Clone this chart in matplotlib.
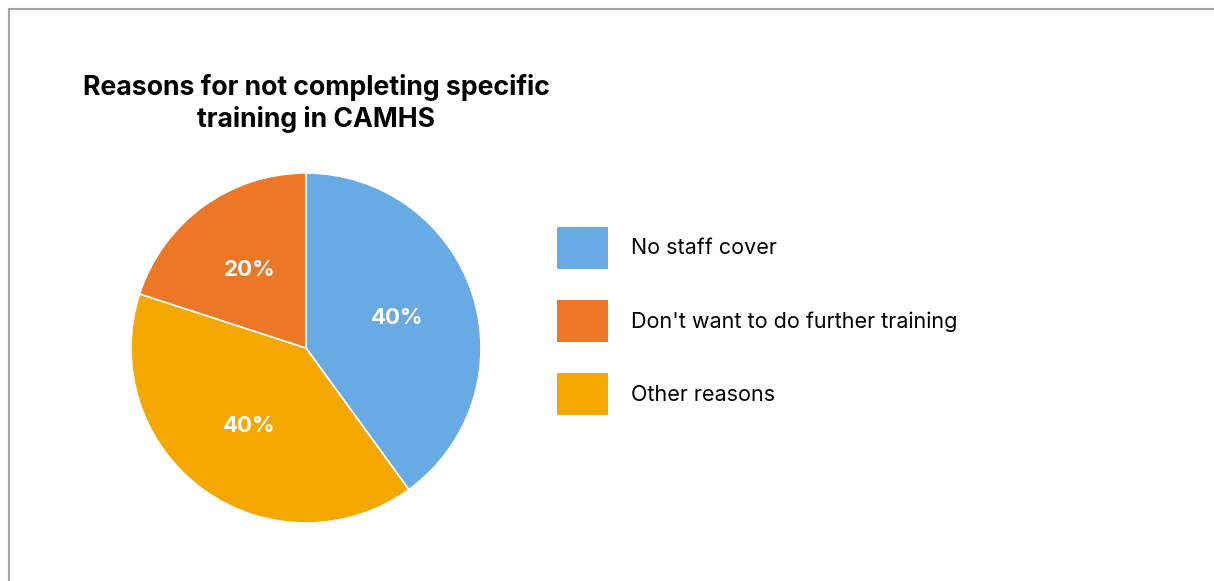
import matplotlib
matplotlib.use("Agg")
import matplotlib.pyplot as plt
import matplotlib.patches as patches

plt.rcParams['font.family'] = ['Inter', 'DejaVu Sans']

title = "Reasons for not completing specific\ntraining in CAMHS"
labels = ["No staff cover", "Don't want to do further training", "Other reasons"]
values = [40, 20, 40]
colors = ["#68AAE4", "#EC7727", "#F4A800"]
# clockwise from 12 o'clock the slices go blue, yellow, orange
pie_order = [0, 2, 1]

W, H = 1214, 581
fig = plt.figure(figsize=(W / 100, H / 100), dpi=100)

# grey frame, cut off at right and bottom like the screenshot
fig.add_artist(patches.Rectangle((8.5 / W, -0.1), 1.2, (H - 8.5) / H + 0.1,
                                 transform=fig.transFigure, fill=False,
                                 edgecolor="#A6A6A6", lw=1.5))

cx, cy, r = 306, 348, 175
ax = fig.add_axes([(cx - r) / W, (H - cy - r) / H, 2 * r / W, 2 * r / H])
wedges, texts, autotexts = ax.pie(
    [values[i] for i in pie_order],
    colors=[colors[i] for i in pie_order],
    startangle=90, counterclock=False,
    autopct=lambda p: f"{p:.0f}%", pctdistance=0.55,
    wedgeprops=dict(edgecolor="white", linewidth=1.2),
    textprops=dict(color="white", fontsize=16, fontweight="bold"))
ax.set_xlim(-1, 1)
ax.set_ylim(-1, 1)
ax.set_aspect("equal")
ax.axis("off")

fig.text(316 / W, 1 - 127 / H, title, ha="center", va="baseline",
         fontsize=19.2, fontweight="bold", linespacing=1.25)

# legend in the original order
handles = [patches.Patch(facecolor=c) for c in colors]
fs = 15.5
fpx = fs * 100 / 72
leg = fig.legend(handles, labels, loc="upper left",
                 bbox_to_anchor=(557 / W, 1 - 227 / H),
                 frameon=False, fontsize=fs, borderpad=0, borderaxespad=0,
                 handlelength=51 / fpx, handleheight=41 / fpx + 0.7,
                 handletextpad=23 / fpx, labelspacing=31.5 / fpx)

fig.savefig("out.png", dpi=100)
